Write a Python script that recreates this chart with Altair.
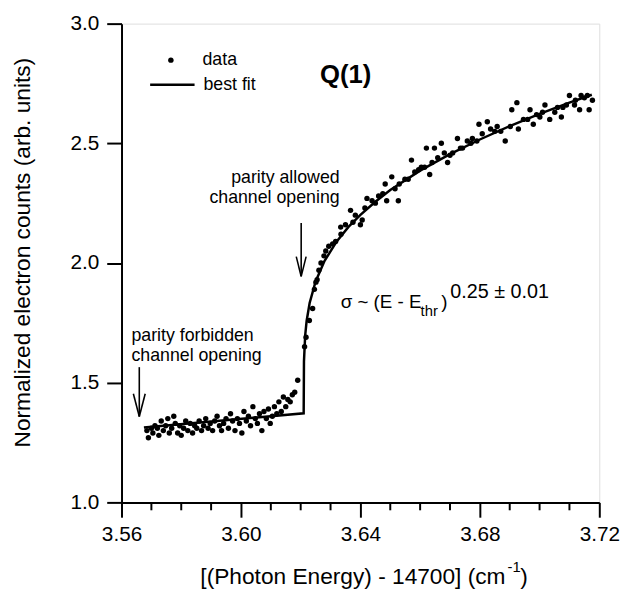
import altair as alt
import pandas as pd

# ---------------- data ----------------
flat_x = [3.5685, 3.5690, 3.5700, 3.5705, 3.5712, 3.5720, 3.5725, 3.5733, 3.5740, 3.5748,
          3.5755, 3.5760, 3.5768, 3.5775, 3.5780, 3.5788, 3.5795, 3.5800, 3.5808, 3.5815,
          3.5822, 3.5830, 3.5838, 3.5845, 3.5852, 3.5860, 3.5868, 3.5875, 3.5882, 3.5890,
          3.5897, 3.5905, 3.5912, 3.5920, 3.5928, 3.5935, 3.5942, 3.5950, 3.5958, 3.5965,
          3.5972, 3.5980, 3.5988, 3.5995, 3.6003, 3.6010, 3.6018, 3.6025, 3.6032, 3.6040,
          3.6048, 3.6055, 3.6062, 3.6070, 3.6077, 3.6085, 3.6092, 3.6098, 3.6105, 3.6112,
          3.6120, 3.6127, 3.6135, 3.6142, 3.6150, 3.6157, 3.6165, 3.6172, 3.6180, 3.6190]
flat_y = [1.30, 1.27, 1.31, 1.29, 1.32, 1.31, 1.28, 1.34, 1.30, 1.32,
          1.35, 1.29, 1.31, 1.36, 1.33, 1.29, 1.32, 1.28, 1.31, 1.34,
          1.30, 1.33, 1.29, 1.32, 1.31, 1.34, 1.30, 1.32, 1.35, 1.31,
          1.33, 1.30, 1.34, 1.36, 1.32, 1.30, 1.33, 1.35, 1.31, 1.37,
          1.34, 1.30, 1.35, 1.33, 1.29, 1.38, 1.34, 1.36, 1.32, 1.40,
          1.35, 1.33, 1.37, 1.30, 1.38, 1.35, 1.39, 1.33, 1.36, 1.40,
          1.37, 1.42, 1.38, 1.44, 1.40, 1.43, 1.42, 1.45, 1.46, 1.51]

rise_x = [3.6213, 3.6218, 3.6229, 3.6240, 3.6246, 3.6251, 3.6255, 3.6261, 3.6268, 3.6278,
          3.6284, 3.6294, 3.6307, 3.6317, 3.6334, 3.6335, 3.6350, 3.6367, 3.6375, 3.6383,
          3.6400, 3.6406, 3.6415, 3.6422, 3.6439, 3.6450, 3.6461, 3.6475, 3.6483, 3.6488,
          3.6505, 3.6516, 3.6527, 3.6530, 3.6549, 3.6560, 3.6571, 3.6582, 3.6595, 3.6604,
          3.6615, 3.6621, 3.6632, 3.6640, 3.6648, 3.6659, 3.6671, 3.6681, 3.6692, 3.6700,
          3.6709, 3.6725, 3.6735, 3.6742, 3.6758, 3.6770, 3.6775, 3.6790, 3.6797, 3.6808,
          3.6825, 3.6836, 3.6850, 3.6858, 3.6870, 3.6885, 3.6902, 3.6907, 3.6924, 3.6929,
          3.6946, 3.6960, 3.6968, 3.6979, 3.6990, 3.7001, 3.7010, 3.7018, 3.7034, 3.7051,
          3.7060, 3.7073, 3.7078, 3.7090, 3.7100, 3.7117, 3.7120, 3.7134, 3.7139, 3.7150,
          3.7160, 3.7166, 3.7177]
rise_y = [1.65, 1.69, 1.76, 1.81, 1.89, 1.92, 1.93, 1.97, 2.00, 2.03,
          2.05, 2.07, 2.08, 2.09, 2.15, 2.12, 2.16, 2.22, 2.17, 2.20,
          2.16, 2.18, 2.23, 2.27, 2.26, 2.25, 2.28, 2.29, 2.33, 2.26,
          2.36, 2.31, 2.26, 2.33, 2.35, 2.35, 2.43, 2.38, 2.39, 2.40,
          2.40, 2.48, 2.37, 2.42, 2.48, 2.44, 2.50, 2.46, 2.42, 2.45,
          2.46, 2.52, 2.48, 2.48, 2.51, 2.50, 2.52, 2.51, 2.58, 2.54,
          2.59, 2.56, 2.55, 2.57, 2.55, 2.51, 2.57, 2.64, 2.67, 2.56,
          2.60, 2.60, 2.64, 2.58, 2.62, 2.61, 2.63, 2.66, 2.60, 2.63,
          2.65, 2.61, 2.65, 2.66, 2.70, 2.66, 2.68, 2.64, 2.70, 2.69,
          2.70, 2.64, 2.68]

fit_x = [3.5675, 3.6210, 3.6211, 3.6215, 3.6220, 3.6230, 3.6250, 3.6280, 3.6320, 3.6360,
         3.6400, 3.6450, 3.6500, 3.6600, 3.6700, 3.6800, 3.6900, 3.7000, 3.7100, 3.7175]
fit_y = [1.313, 1.372, 1.589, 1.697, 1.759, 1.833, 1.923, 2.009, 2.089, 2.151,
         2.201, 2.256, 2.305, 2.386, 2.455, 2.516, 2.572, 2.623, 2.670, 2.703]

x_major = [3.56, 3.60, 3.64, 3.68, 3.72]
x_minor = [3.57, 3.58, 3.59, 3.61, 3.62, 3.63, 3.65, 3.66, 3.67, 3.69, 3.70, 3.71]
y_major = [1.0, 1.5, 2.0, 2.5, 3.0]

FONT = "Liberation Sans"
W, H = 484, 485

points = pd.DataFrame({"x": flat_x + rise_x, "y": flat_y + rise_y})
fit = pd.DataFrame({"x": fit_x, "y": fit_y, "i": list(range(len(fit_x)))})
minor = pd.DataFrame({"x": x_minor})

xscale = alt.Scale(domain=[3.56, 3.72], nice=False, zero=False)
yscale = alt.Scale(domain=[1.0, 3.0], nice=False, zero=False)

xaxis = alt.Axis(values=x_major, format=".2f", title=None, tickSize=15, tickWidth=2,
                 domainWidth=2, domainColor="black", tickColor="black", labelColor="black",
                 labelFont=FONT, labelFontSize=21, labelPadding=7, labelFlush=False,
                 labelOverlap=False, grid=False)
yaxis = alt.Axis(values=y_major, format=".1f", title=None, tickSize=15, tickWidth=2,
                 domainWidth=2, domainColor="black", tickColor="black", labelColor="black",
                 labelFont=FONT, labelFontSize=21, labelPadding=8, labelFlush=False,
                 labelOverlap=False, grid=False)

dots = alt.Chart(points).mark_circle(size=30, color="black", opacity=1).encode(
    x=alt.X("x:Q", scale=xscale, axis=xaxis),
    y=alt.Y("y:Q", scale=yscale, axis=yaxis),
)

line = alt.Chart(fit).mark_line(color="black", strokeWidth=2.5).encode(
    x=alt.X("x:Q", scale=xscale),
    y=alt.Y("y:Q", scale=yscale),
    order="i:Q",
)

minor_ticks = alt.Chart(minor).mark_rule(color="black", strokeWidth=2).encode(
    x=alt.X("x:Q", scale=xscale),
    y=alt.value(H),
    y2=alt.value(H + 8),
)


def txt(s, x, y, size=18, align="left", baseline="middle", bold=False, angle=0):
    return alt.Chart(pd.DataFrame({"t": [s]})).mark_text(
        align=align, baseline=baseline, font=FONT, fontSize=size,
        fontWeight="bold" if bold else "normal", color="black", angle=angle,
    ).encode(x=alt.value(x), y=alt.value(y), text="t:N")


def seg(x1, y1, x2, y2, w=1.6):
    return alt.Chart(pd.DataFrame({"a": [0]})).mark_rule(color="black", strokeWidth=w).encode(
        x=alt.value(x1), y=alt.value(y1), x2=alt.value(x2), y2=alt.value(y2))


layers = [
    minor_ticks, line, dots,
    # legend
    alt.Chart(pd.DataFrame({"a": [0]})).mark_circle(size=30, color="black", opacity=1).encode(
        x=alt.value(50), y=alt.value(37)),
    txt("data", 82, 37),
    seg(29, 62, 74, 62, 2.5),
    txt("best fit", 83, 62),
    txt("Q(1)", 227, 52, size=26, align="center", bold=True),
    # annotations
    txt("parity allowed", 221, 156, align="right"),
    txt("channel opening", 221, 177, align="right"),
    seg(182, 202, 182, 256), seg(177, 236, 182, 256), seg(187, 236, 182, 256),
    txt("parity forbidden", 10, 316),
    txt("channel opening", 10, 337),
    seg(18, 348, 18, 398), seg(12, 375, 18, 398), seg(24, 375, 18, 398),
    # formula
    txt("σ ~ (E - E", 222, 282, size=19),
    txt("thr", 303, 291, size=15),
    txt(")", 324, 282, size=19),
    txt("0.25 ± 0.01", 333, 272, size=20),
    # axis titles
    txt("[(Photon Energy) - 14700] (cm", 389, 561, size=23, align="right"),
    txt("-1", 391, 551, size=15),
    txt(")", 404, 561, size=23),
    txt("Normalized electron counts (arb. units)", -100, 232, size=23, align="center", angle=270),
]

chart = alt.layer(*layers).properties(
    width=W, height=H,
    autosize=alt.AutoSizeParams(type="none"),
    padding={"left": 115, "top": 12, "right": 23, "bottom": 92},
).configure_view(stroke="black", strokeWidth=2).configure(background="white")

chart.save("out.html", embed_options={"renderer": "svg", "actions": False})
